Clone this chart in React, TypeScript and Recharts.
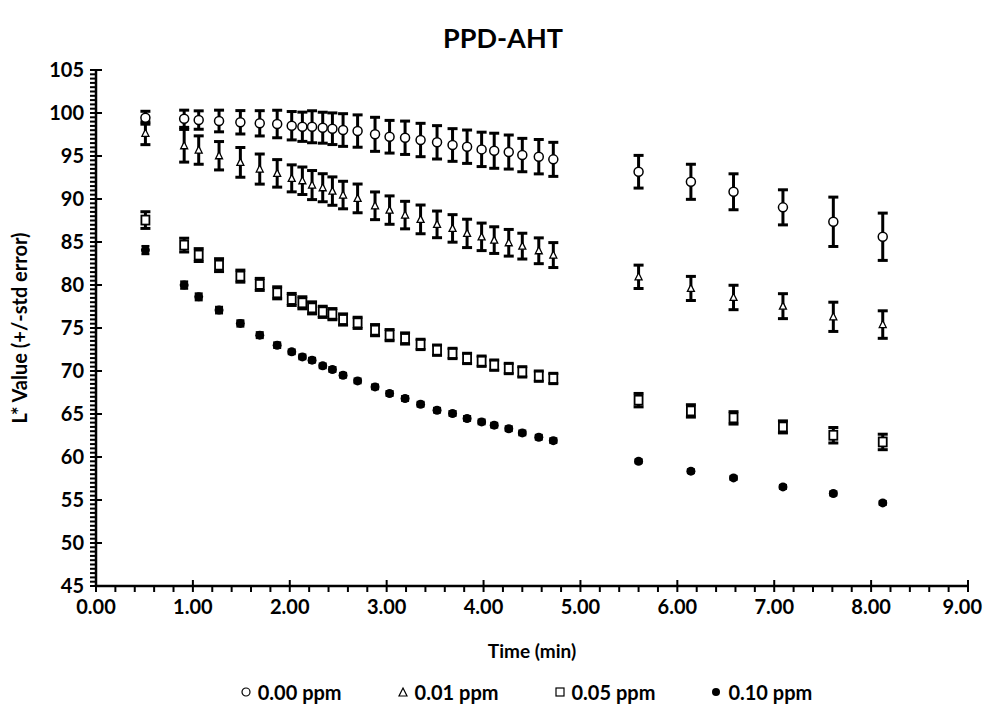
import { ScatterChart, Scatter, XAxis, YAxis, ErrorBar, Legend } from 'recharts';

// time points (min)
const times = [
  0.51, 0.91, 1.06, 1.27, 1.49, 1.69, 1.87, 2.02, 2.13, 2.23, 2.34, 2.44, 2.55, 2.7, 2.88, 3.03, 3.19,
  3.35, 3.52, 3.68, 3.83, 3.98, 4.11, 4.26, 4.4, 4.57, 4.72, 5.6, 6.14, 6.58, 7.09, 7.61, 8.12,
];

const ppm000 = [
  99.45, 99.33, 99.18, 99.07, 98.92, 98.8, 98.72, 98.52, 98.4, 98.4, 98.29, 98.17, 98.02, 97.9, 97.52,
  97.24, 97.12, 96.86, 96.59, 96.28, 96.08, 95.77, 95.61, 95.46, 95.11, 94.92, 94.61, 93.17, 92.0, 90.84,
  89.03, 87.35, 85.61,
];
const err000 = [
  0.75, 1.0, 1.07, 1.26, 1.36, 1.47, 1.6, 1.65, 1.7, 1.86, 1.8, 1.84, 1.9, 1.88, 1.98, 1.9, 1.94, 1.94,
  1.94, 1.9, 1.94, 2.0, 2.04, 1.98, 1.94, 2.0, 1.98, 1.9, 2.04, 2.09, 2.04, 2.87, 2.75,
];

const ppm001 = [
  97.64, 96.19, 95.69, 95.03, 94.26, 93.48, 92.98, 92.4, 92.12, 91.62, 91.31, 90.92, 90.46, 90.07, 89.21,
  88.71, 88.13, 87.63, 87.05, 86.58, 86.0, 85.6, 85.22, 84.91, 84.52, 83.98, 83.48, 80.95, 79.6, 78.55,
  77.54, 76.3, 75.4,
];
const err001 = [
  1.32, 1.9, 1.65, 1.65, 1.73, 1.75, 1.6, 1.57, 1.6, 1.69, 1.63, 1.65, 1.6, 1.67, 1.61, 1.65, 1.6, 1.67,
  1.55, 1.6, 1.65, 1.6, 1.55, 1.55, 1.5, 1.5, 1.45, 1.36, 1.4, 1.42, 1.45, 1.7, 1.6,
];

const ppm005 = [
  87.55, 84.64, 83.48, 82.31, 81.03, 80.07, 79.09, 78.32, 77.93, 77.34, 76.88, 76.61, 75.99, 75.6, 74.75,
  74.17, 73.78, 73.09, 72.42, 72.04, 71.46, 71.14, 70.68, 70.29, 69.9, 69.4, 69.13, 66.61, 65.36, 64.55,
  63.5, 62.53, 61.75,
];
const err005 = [
  0.97, 0.8, 0.75, 0.75, 0.7, 0.7, 0.7, 0.7, 0.7, 0.7, 0.65, 0.65, 0.65, 0.65, 0.65, 0.65, 0.65, 0.6,
  0.6, 0.6, 0.6, 0.6, 0.6, 0.6, 0.6, 0.6, 0.6, 0.78, 0.72, 0.72, 0.7, 0.9, 0.9,
];

const ppm010 = [
  84.06, 79.99, 78.62, 77.08, 75.53, 74.17, 73.0, 72.23, 71.64, 71.26, 70.6, 70.18, 69.51, 68.85, 68.15,
  67.38, 66.8, 66.14, 65.44, 65.06, 64.48, 64.08, 63.7, 63.29, 62.8, 62.3, 61.9, 59.51, 58.35, 57.57,
  56.52, 55.75, 54.66,
];
const err010 = [
  0.45, 0.4, 0.38, 0.36, 0.34, 0.32, 0.3, 0.25, 0.25, 0.25, 0.25, 0.25, 0.25, 0.25, 0.25, 0.25, 0.25, 0.25,
  0.25, 0.25, 0.25, 0.25, 0.25, 0.25, 0.25, 0.25, 0.25, 0.2, 0.2, 0.2, 0.2, 0.2, 0.2,
];

const xTicks = [
  0, 0.2, 0.4, 0.6, 0.8, 1, 1.2, 1.4, 1.6, 1.8, 2, 2.2, 2.4, 2.6, 2.8, 3, 3.2, 3.4, 3.6, 3.8, 4, 4.2, 4.4,
  4.6, 4.8, 5, 5.2, 5.4, 5.6, 5.8, 6, 6.2, 6.4, 6.6, 6.8, 7, 7.2, 7.4, 7.6, 7.8, 8, 8.2, 8.4, 8.6, 8.8, 9,
];
// minor ticks every 0.5 on the y axis
const yTicks = Array.from({ length: 121 }, (_, i) => 45 + i * 0.5);

const FONT = 'Lato, "Open Sans", sans-serif';

const build = (ys: number[], es: number[]) => times.map((t, i) => ({ t, v: ys[i], e: es[i] }));

function XTick({ x, y, payload }: any) {
  const v = payload.value;
  const major = Math.abs(v - Math.round(v)) < 1e-6;
  const last = Math.abs(v - 9) < 1e-6; // keep the last label inside the page
  return (
    <g>
      <line x1={x} x2={x} y1={major ? y - 6 : y} y2={y + 6} stroke="#000" strokeWidth={2} />
      {major && (
        <text
          x={last ? x + 14 : x}
          y={y + 28}
          textAnchor={last ? 'end' : 'middle'}
          fontFamily={FONT}
          fontWeight={700}
          fontSize={20}
          fill="#000"
        >
          {v.toFixed(2)}
        </text>
      )}
    </g>
  );
}

function YTick({ x, y, payload }: any) {
  const v = payload.value;
  const major = Math.abs(v / 5 - Math.round(v / 5)) < 1e-6;
  return (
    <g>
      <line x1={x - 6} x2={major ? x + 6 : x} y1={y} y2={y} stroke="#000" strokeWidth={2} />
      {major && (
        <text x={x - 12} y={y} dy="0.36em" textAnchor="end" fontFamily={FONT} fontWeight={700} fontSize={20} fill="#000">
          {v}
        </text>
      )}
    </g>
  );
}

const OpenCircle = ({ cx, cy }: any) => <circle cx={cx} cy={cy} r={4.5} fill="#fff" stroke="#000" strokeWidth={1.5} />;
const OpenTriangle = ({ cx, cy }: any) => (
  <polygon points={`${cx},${cy - 4} ${cx + 3.5},${cy + 3} ${cx - 3.5},${cy + 3}`} fill="#fff" stroke="#000" strokeWidth={1.3} />
);
const OpenSquare = ({ cx, cy }: any) => (
  <rect x={cx - 4} y={cy - 4.5} width={8} height={9} fill="#fff" stroke="#000" strokeWidth={1.8} />
);
const Dot = ({ cx, cy }: any) => <circle cx={cx} cy={cy} r={4.5} fill="#000" />;

const legendItems = [
  { label: '0.00 ppm', icon: <circle cx={6} cy={6} r={4} fill="#fff" stroke="#000" strokeWidth={1.2} /> },
  { label: '0.01 ppm', icon: <polygon points="6,2 10,10 2,10" fill="#fff" stroke="#000" strokeWidth={1.2} /> },
  { label: '0.05 ppm', icon: <rect x={2} y={2} width={8} height={8} fill="#fff" stroke="#000" strokeWidth={1.2} /> },
  { label: '0.10 ppm', icon: <circle cx={6} cy={6} r={4} fill="#000" /> },
];

function LegendContent() {
  return (
    <div
      style={{
        display: 'flex',
        justifyContent: 'center',
        gap: 55,
        paddingTop: 16,
        paddingLeft: 76,
        height: 24,
        alignItems: 'center',
        fontFamily: FONT,
        fontWeight: 700,
        fontSize: 20,
        color: '#000',
      }}
    >
      {legendItems.map((it) => (
        <div key={it.label} style={{ display: 'flex', alignItems: 'center', gap: 6 }}>
          <svg width={12} height={12}>{it.icon}</svg>
          <span>{it.label}</span>
        </div>
      ))}
    </div>
  );
}

export default function App() {
  return (
    <div style={{ position: 'relative', width: 975, height: 696, background: '#fff' }}>
      <div
        style={{
          position: 'absolute',
          top: 16,
          left: 0,
          width: 990,
          textAlign: 'center',
          fontFamily: FONT,
          fontWeight: 700,
          fontSize: 27,
          lineHeight: '28px',
        }}
      >
        PPD-AHT
      </div>
      <ScatterChart width={975} height={696} margin={{ top: 62, right: 15, left: 0, bottom: 0 }}>
        <XAxis
          type="number"
          dataKey="t"
          domain={[0, 9]}
          ticks={xTicks}
          interval={0}
          tickSize={0}
          tickMargin={0}
          tick={<XTick />}
          axisLine={{ stroke: '#000', strokeWidth: 2.5 }}
          height={78}
          label={{
            value: 'Time (min)',
            position: 'insideBottom',
            offset: 6,
            style: { fontFamily: FONT, fontWeight: 700, fontSize: 19, fill: '#000' },
          }}
        />
        <YAxis
          type="number"
          dataKey="v"
          domain={[45, 105]}
          ticks={yTicks}
          interval={0}
          tickSize={0}
          tickMargin={0}
          tick={<YTick />}
          axisLine={{ stroke: '#000', strokeWidth: 2.5 }}
          width={88}
          label={{
            value: 'L* Value (+/-std error)',
            angle: -90,
            position: 'insideLeft',
            offset: 12,
            style: { textAnchor: 'middle', fontFamily: FONT, fontWeight: 700, fontSize: 20, fill: '#000' },
          }}
        />
        <Legend verticalAlign="bottom" content={<LegendContent />} />
        <Scatter name="0.00 ppm" data={build(ppm000, err000)} shape={OpenCircle} isAnimationActive={false}>
          <ErrorBar dataKey="e" direction="y" width={5} strokeWidth={3} stroke="#000" />
        </Scatter>
        <Scatter name="0.01 ppm" data={build(ppm001, err001)} shape={OpenTriangle} isAnimationActive={false}>
          <ErrorBar dataKey="e" direction="y" width={5} strokeWidth={3} stroke="#000" />
        </Scatter>
        <Scatter name="0.05 ppm" data={build(ppm005, err005)} shape={OpenSquare} isAnimationActive={false}>
          <ErrorBar dataKey="e" direction="y" width={5} strokeWidth={3} stroke="#000" />
        </Scatter>
        <Scatter name="0.10 ppm" data={build(ppm010, err010)} shape={Dot} isAnimationActive={false}>
          <ErrorBar dataKey="e" direction="y" width={4} strokeWidth={2.5} stroke="#000" />
        </Scatter>
      </ScatterChart>
    </div>
  );
}
